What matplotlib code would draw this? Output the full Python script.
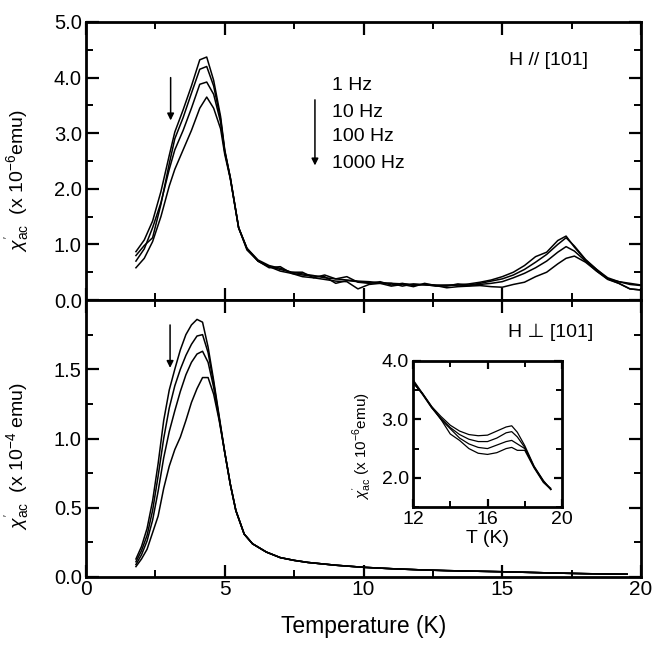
import matplotlib
matplotlib.use("Agg")
import matplotlib.pyplot as plt
from matplotlib.ticker import MultipleLocator, FormatStrFormatter

plt.rcParams['font.family'] = ['Liberation Sans', 'DejaVu Sans']
plt.rcParams['mathtext.fontset'] = 'custom'
plt.rcParams['mathtext.rm'] = 'Liberation Sans'
plt.rcParams['mathtext.it'] = 'Liberation Sans:italic'
plt.rcParams['mathtext.bf'] = 'Liberation Sans:bold'

# ---------------- data ----------------
freq_labels = ["1 Hz", "10 Hz", "100 Hz", "1000 Hz"]

# top panel: H // [101], units 1e-6 emu
T_top = [1.8, 2.1, 2.4, 2.7, 3.0, 3.2, 3.5, 3.8, 4.1, 4.35, 4.6, 4.85, 5.0, 5.2, 5.5,
         5.8, 6.2, 6.6, 7.0, 7.4, 7.8, 8.2, 8.6, 9.0, 9.4, 9.8, 10.2, 10.6, 11.0, 11.4,
         11.8, 12.2, 12.6, 13.0, 13.4, 13.8, 14.2, 14.6, 15.0, 15.4, 15.8, 16.2, 16.6,
         17.0, 17.3, 17.6, 18.0, 18.4, 18.8, 19.2, 19.6, 20.0]
chi_top_1 = [0.87, 1.08, 1.42, 1.95, 2.6, 3.02, 3.42, 3.85, 4.32, 4.37, 3.95, 3.3, 2.7, 2.2, 1.3,
             0.93, 0.72, 0.62, 0.57, 0.5, 0.47, 0.44, 0.4, 0.38, 0.36, 0.34, 0.33, 0.31, 0.3, 0.29,
             0.28, 0.28, 0.27, 0.27, 0.27, 0.29, 0.32, 0.36, 0.42, 0.5, 0.62, 0.78, 0.86,
             1.07, 1.15, 0.95, 0.72, 0.55, 0.38, 0.33, 0.3, 0.27]
chi_top_10 = [0.8, 0.98, 1.12, 1.72, 2.45, 2.9, 3.28, 3.72, 4.15, 4.2, 3.85, 3.25, 2.68, 2.2, 1.3,
              0.93, 0.7, 0.58, 0.6, 0.48, 0.45, 0.43, 0.42, 0.3, 0.35, 0.33, 0.31, 0.3, 0.3, 0.25,
              0.29, 0.27, 0.26, 0.25, 0.29, 0.27, 0.3, 0.34, 0.38, 0.45, 0.55, 0.68, 0.82,
              1.0, 1.12, 0.97, 0.73, 0.55, 0.4, 0.33, 0.28, 0.26]
chi_top_100 = [0.7, 0.92, 1.3, 1.75, 2.35, 2.7, 3.05, 3.45, 3.88, 3.92, 3.7, 3.2, 2.66, 2.2, 1.3,
               0.92, 0.7, 0.6, 0.55, 0.5, 0.5, 0.4, 0.45, 0.38, 0.42, 0.32, 0.3, 0.33, 0.27, 0.3,
               0.26, 0.28, 0.25, 0.26, 0.27, 0.26, 0.28, 0.3, 0.33, 0.4, 0.48, 0.58, 0.7,
               0.86, 0.96, 0.88, 0.7, 0.52, 0.38, 0.3, 0.2, 0.18]
chi_top_1000 = [0.58, 0.75, 1.05, 1.5, 2.05, 2.35, 2.7, 3.05, 3.45, 3.65, 3.45, 3.08, 2.62, 2.18, 1.3,
                0.9, 0.7, 0.6, 0.52, 0.48, 0.42, 0.4, 0.37, 0.34, 0.33, 0.2, 0.28, 0.3, 0.25, 0.28,
                0.24, 0.3, 0.26, 0.22, 0.24, 0.25, 0.26, 0.24, 0.23, 0.28, 0.32, 0.42, 0.5,
                0.65, 0.75, 0.79, 0.68, 0.52, 0.37, 0.3, 0.2, 0.18]

# bottom panel: H perp [101], units 1e-4 emu
T_bot = [1.8, 2.0, 2.2, 2.4, 2.6, 2.8, 3.0, 3.2, 3.4, 3.6, 3.8, 4.0, 4.2, 4.4, 4.6, 4.8,
         5.0, 5.2, 5.4, 5.7, 6.0, 6.5, 7.0, 7.5, 8.0, 9.0, 10.0, 11.0, 12.0, 13.0, 14.0,
         15.0, 16.0, 17.0, 18.0, 19.0, 19.5]
chi_bot_tail = [0.9, 0.67, 0.48, 0.31, 0.24, 0.18, 0.14, 0.12, 0.105, 0.085, 0.07, 0.06,
                0.052, 0.046, 0.042, 0.038, 0.033, 0.028, 0.024, 0.021, 0.02]
chi_bot_1 = [0.13, 0.22, 0.35, 0.55, 0.82, 1.13, 1.35, 1.5, 1.64, 1.75, 1.82, 1.86, 1.84, 1.66, 1.42, 1.16] + chi_bot_tail
chi_bot_10 = [0.11, 0.19, 0.3, 0.48, 0.73, 1.0, 1.22, 1.38, 1.5, 1.6, 1.68, 1.74, 1.75, 1.62, 1.4, 1.15] + chi_bot_tail
chi_bot_100 = [0.09, 0.16, 0.26, 0.41, 0.62, 0.86, 1.05, 1.2, 1.34, 1.46, 1.55, 1.61, 1.63, 1.55, 1.37, 1.14] + chi_bot_tail
chi_bot_1000 = [0.075, 0.13, 0.2, 0.32, 0.44, 0.64, 0.8, 0.92, 1.01, 1.13, 1.26, 1.36, 1.44, 1.44, 1.32, 1.13] + chi_bot_tail

# inset: H perp [101], units 1e-6 emu
T_ins = [12.0, 12.5, 13.0, 13.5, 14.0, 14.5, 15.0, 15.5, 16.0, 16.5, 17.0, 17.3, 17.6, 18.0, 18.5, 19.0, 19.4]
chi_ins_1 = [3.68, 3.45, 3.22, 3.05, 2.9, 2.8, 2.74, 2.72, 2.73, 2.8, 2.87, 2.89, 2.78, 2.55, 2.2, 1.95, 1.8]
chi_ins_10 = [3.66, 3.44, 3.2, 3.02, 2.86, 2.74, 2.66, 2.62, 2.62, 2.68, 2.77, 2.79, 2.7, 2.52, 2.19, 1.95, 1.8]
chi_ins_100 = [3.64, 3.43, 3.2, 3.0, 2.84, 2.68, 2.58, 2.52, 2.5, 2.56, 2.62, 2.64, 2.58, 2.5, 2.18, 1.93, 1.82]
chi_ins_1000 = [3.62, 3.45, 3.22, 3.0, 2.75, 2.64, 2.5, 2.42, 2.4, 2.43, 2.5, 2.52, 2.47, 2.47, 2.17, 1.92, 1.8]

# ---------------- figure ----------------
fig = plt.figure(figsize=(6.64, 6.47), dpi=100)
ax1 = fig.add_axes([0.1295, 0.5363, 0.8359, 0.4297])
ax2 = fig.add_axes([0.1295, 0.1082, 0.8359, 0.4281])
axi = fig.add_axes([0.622, 0.2164, 0.2244, 0.2257])

LW = 1.1
TICK_FS = 14.5

def style(ax, fs=TICK_FS):
    for s in ax.spines.values():
        s.set_linewidth(2.0)
    ax.tick_params(which='both', direction='in', top=True, right=True, labelsize=fs, pad=3)
    ax.tick_params(which='major', length=9, width=1.6)
    ax.tick_params(which='minor', length=5, width=1.4)

for y in (chi_top_1, chi_top_10, chi_top_100, chi_top_1000):
    ax1.plot(T_top, y, color='black', lw=LW)
ax1.set_xlim(0, 20)
ax1.set_ylim(0, 5.0)
ax1.xaxis.set_major_locator(MultipleLocator(5))
ax1.xaxis.set_minor_locator(MultipleLocator(2.5))
ax1.yaxis.set_major_locator(MultipleLocator(1.0))
ax1.yaxis.set_minor_locator(MultipleLocator(0.5))
ax1.yaxis.set_major_formatter(FormatStrFormatter('%.1f'))
ax1.tick_params(labelbottom=False)
style(ax1)
ax1.set_ylabel(r"$\chi^{'}_{\rm ac}$  (x 10$^{-6}$emu)", fontsize=14)
ax1.yaxis.set_label_coords(-0.095, 0.43)
ax1.text(18.1, 4.3, "H // [101]", fontsize=14, ha='right', va='center')
for lab, yv in zip(freq_labels, [3.85, 3.38, 2.94, 2.46]):
    ax1.text(8.86, yv, lab, fontsize=14, ha='left', va='center')
ax1.annotate("", xy=(8.25, 2.37), xytext=(8.25, 3.65),
             arrowprops=dict(arrowstyle='-|>', color='black', lw=1.1, mutation_scale=10))
ax1.annotate("", xy=(3.05, 3.18), xytext=(3.05, 4.05),
             arrowprops=dict(arrowstyle='-|>', color='black', lw=1.1, mutation_scale=10))

for y in (chi_bot_1, chi_bot_10, chi_bot_100, chi_bot_1000):
    ax2.plot(T_bot, y, color='black', lw=LW)
ax2.set_xlim(0, 20)
ax2.set_ylim(0, 2.0)
ax2.xaxis.set_major_locator(MultipleLocator(5))
ax2.xaxis.set_minor_locator(MultipleLocator(2.5))
ax2.set_yticks([0.0, 0.5, 1.0, 1.5])
ax2.yaxis.set_minor_locator(MultipleLocator(0.25))
ax2.yaxis.set_major_formatter(FormatStrFormatter('%.1f'))
style(ax2)
ax2.tick_params(axis='x', labelsize=15, pad=2)
ax2.set_ylabel(r"$\chi^{'}_{\rm ac}$  (x 10$^{-4}$ emu)", fontsize=14)
ax2.yaxis.set_label_coords(-0.095, 0.437)
ax2.set_xlabel("Temperature (K)", fontsize=16.5, labelpad=12)
ax2.text(18.27, 1.77, "H \u22a5 [101]", fontsize=14, ha='right', va='center')
ax2.annotate("", xy=(3.03, 1.49), xytext=(3.03, 1.84),
             arrowprops=dict(arrowstyle='-|>', color='black', lw=1.1, mutation_scale=10))

for y in (chi_ins_1, chi_ins_10, chi_ins_100, chi_ins_1000):
    axi.plot(T_ins, y, color='black', lw=0.9)
axi.set_xlim(12, 20)
axi.set_ylim(1.5, 4.0)
axi.set_xticks([12, 16, 20])
axi.xaxis.set_minor_locator(MultipleLocator(2))
axi.set_yticks([2.0, 3.0, 4.0])
axi.yaxis.set_minor_locator(MultipleLocator(0.5))
axi.yaxis.set_major_formatter(FormatStrFormatter('%.1f'))
style(axi, fs=14)
axi.tick_params(which='major', length=6)
axi.tick_params(which='minor', length=4)
axi.set_xlabel("T (K)", fontsize=14, labelpad=1)
axi.set_ylabel(r"$\chi^{'}_{\rm ac}$ (x 10$^{-6}$emu)", fontsize=11)
axi.yaxis.set_label_coords(-0.27, 0.42)

fig.savefig("out.png", dpi=100)
